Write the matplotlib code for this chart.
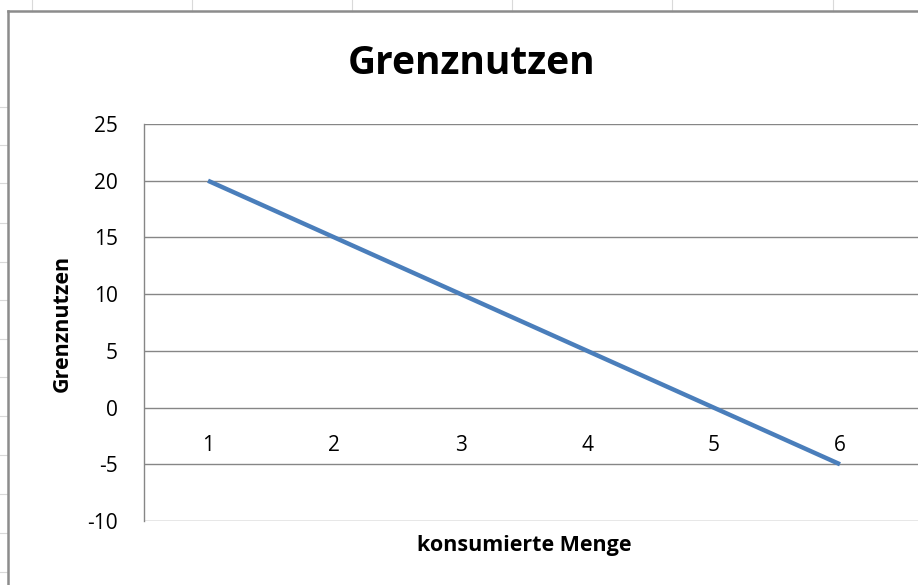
import matplotlib.pyplot as plt
from matplotlib.lines import Line2D

# data
menge = [1, 2, 3, 4, 5, 6]
grenznutzen = [20, 15, 10, 5, 0, -5]
y_ticks = [-10, -5, 0, 5, 10, 15, 20, 25]

title = "Grenznutzen"
x_label = "konsumierte Menge"
y_label = "Grenznutzen"

plt.rcParams['font.family'] = ['Open Sans', 'DejaVu Sans']

fig = plt.figure(figsize=(9.18, 5.85), dpi=100)
W, H = 918, 585

# spreadsheet cell lines behind the chart object
cell = "#d9d9d9"
for x in [32, 192, 352, 512, 672, 833]:
    fig.add_artist(Line2D([x / W, x / W], [1, 1 - 11 / H], color=cell, lw=0.8))
for y in [107, 145, 183, 223, 262, 300, 339, 377, 416, 455, 494, 533, 572]:
    fig.add_artist(Line2D([0, 7 / W], [1 - y / H, 1 - y / H], color=cell, lw=0.8))

# chart object border (top and left visible)
fig.add_artist(Line2D([8 / W, 1], [1 - 11 / H, 1 - 11 / H], color="#8c8c8c", lw=1.8))
fig.add_artist(Line2D([8 / W, 8 / W], [0, 1 - 11 / H], color="#8c8c8c", lw=1.8))

ax = fig.add_axes([144 / W, 1 - 521 / H, (W - 144) / W, (521 - 124) / H])
ax.plot(menge, grenznutzen, color="#4a7ebb", lw=3.2, solid_capstyle="butt", zorder=3)

ax.set_ylim(-10, 25)
ax.set_xlim(1 - 64 / 126.4, 6 + 78 / 126.4)
ax.set_yticks(y_ticks)
ax.set_yticklabels([str(v) for v in y_ticks], fontsize=15)
ax.tick_params(axis="y", length=0, pad=19)
ax.yaxis.grid(True, color="#868686", lw=1.0)

# category labels sit under the zero line
ax.spines["bottom"].set_position(("data", 0))
ax.set_xticks(menge)
ax.set_xticklabels([str(v) for v in menge], fontsize=15)
ax.tick_params(axis="x", length=0, pad=20)

for s in ["top", "right", "bottom"]:
    ax.spines[s].set_visible(False)
ax.spines["left"].set_color("#868686")
ax.spines["left"].set_linewidth(1.0)
ax.set_axisbelow(True)

fig.text(472 / W, 1 - 64 / H, title, fontsize=28, fontweight="bold", ha="center", va="center")
fig.text(524 / W, 1 - 545 / H, x_label, fontsize=15.5, fontweight="bold", ha="center", va="center")
fig.text(62 / W, 1 - 323 / H, y_label, fontsize=15.5, fontweight="bold", ha="center", va="center",
         rotation=90)

fig.savefig("out.png", dpi=100)
